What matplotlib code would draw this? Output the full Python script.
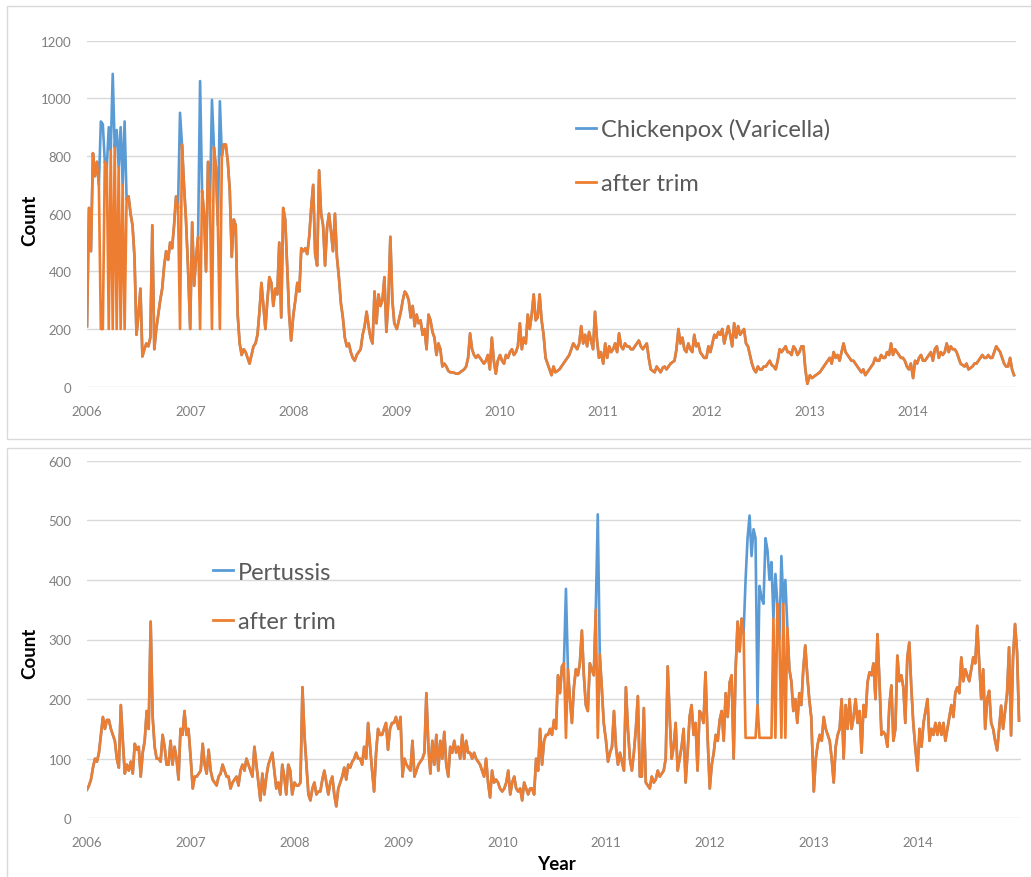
import matplotlib
matplotlib.use("Agg")
import matplotlib.pyplot as plt
import matplotlib.dates as mdates
from matplotlib.lines import Line2D
from matplotlib.patches import Rectangle
import pandas as pd

# === 每週數值（after trim），2006-2014，每年 52 週 === #
YEARS = list(range(2006, 2015))

cp_2006 = [210, 620, 470, 810, 730, 780, 700, 200, 200, 780, 760, 200, 820,
           200, 830, 200, 760, 200, 700, 200, 650, 660, 600, 560, 450, 180,
           250, 340, 105, 130, 150, 140, 170, 560, 130, 200, 250, 300, 340,
           420, 470, 440, 500, 480, 560, 660, 620, 200, 840, 700, 580, 420]
cp_2007 = [200, 570, 350, 450, 520, 200, 680, 600, 400, 780, 640, 200, 830,
           760, 560, 200, 800, 840, 840, 780, 680, 450, 580, 560, 250, 150,
           110, 130, 120, 100, 80, 110, 140, 150, 180, 260, 360, 280, 200,
           300, 380, 360, 280, 340, 320, 500, 240, 620, 580, 420, 250, 160]
cp_2008 = [250, 300, 360, 330, 480, 470, 480, 460, 520, 620, 700, 460, 420,
           750, 600, 560, 420, 550, 600, 540, 470, 600, 450, 380, 290, 240,
           170, 140, 150, 120, 100, 90, 110, 120, 130, 180, 210, 260, 210,
           170, 150, 330, 220, 320, 280, 300, 380, 190, 300, 520, 300, 220]
cp_2009 = [200, 230, 260, 300, 330, 320, 300, 240, 280, 210, 250, 220, 230,
           180, 200, 130, 250, 230, 190, 170, 110, 150, 130, 70, 80, 70,
           55, 50, 50, 48, 45, 45, 50, 55, 60, 70, 100, 185, 130, 110,
           100, 110, 100, 90, 80, 90, 110, 60, 170, 90, 45, 90]
cp_2010 = [110, 90, 80, 110, 100, 120, 130, 110, 120, 140, 220, 130, 170,
           150, 250, 200, 250, 320, 230, 240, 320, 230, 180, 100, 80, 60,
           40, 70, 50, 55, 60, 70, 80, 90, 100, 110, 130, 150, 140,
           130, 150, 210, 150, 180, 140, 190, 160, 130, 260, 160, 100, 120]
cp_2011 = [80, 150, 100, 140, 120, 130, 150, 120, 185, 140, 130, 150, 140,
           140, 130, 130, 140, 150, 160, 140, 130, 140, 150, 100, 60, 55,
           50, 70, 60, 50, 65, 70, 60, 70, 80, 85, 90, 130, 200,
           150, 170, 130, 120, 150, 130, 120, 180, 140, 150, 120, 110, 100]
cp_2012 = [100, 140, 120, 150, 180, 170, 190, 180, 200, 150, 180, 210, 180,
           140, 220, 170, 210, 180, 190, 200, 150, 140, 110, 80, 60, 50,
           70, 60, 60, 70, 70, 80, 90, 75, 70, 60, 90, 130, 120,
           130, 140, 120, 120, 110, 140, 130, 110, 120, 140, 140, 60, 10]
cp_2013 = [40, 30, 35, 40, 45, 50, 60, 70, 80, 90, 100, 80, 120,
           100, 110, 90, 120, 150, 120, 110, 100, 90, 90, 80, 70, 60,
           50, 60, 40, 50, 60, 70, 80, 100, 90, 90, 110, 100, 100,
           120, 110, 150, 110, 130, 120, 110, 100, 100, 90, 70, 60, 80]
cp_2014 = [30, 90, 80, 100, 110, 90, 90, 100, 110, 120, 90, 130, 140,
           100, 120, 110, 120, 150, 120, 140, 130, 130, 120, 100, 80, 75,
           70, 80, 60, 65, 70, 80, 80, 90, 100, 110, 100, 100, 110,
           100, 100, 120, 140, 130, 120, 100, 80, 70, 70, 100, 60, 40]

# 原始值（被 trim 掉的週）
cp_spike_year = [2006, 2006, 2006, 2006, 2006, 2006, 2006, 2006, 2007, 2007, 2007]
cp_spike_week = [7, 8, 11, 13, 15, 17, 19, 47, 5, 11, 15]
cp_spike_value = [920, 910, 900, 1085, 890, 900, 920, 950, 1060, 995, 990]

pt_2006 = [48, 55, 65, 85, 100, 95, 110, 140, 170, 150, 165, 165, 150,
           140, 130, 100, 85, 190, 130, 75, 90, 80, 95, 75, 125, 115,
           120, 70, 110, 130, 180, 150, 330, 170, 120, 100, 100, 95, 140,
           120, 90, 90, 130, 90, 120, 100, 65, 150, 140, 180, 140, 150]
pt_2007 = [100, 50, 70, 70, 75, 80, 125, 90, 75, 115, 80, 65, 60,
           55, 70, 75, 90, 80, 70, 70, 50, 60, 65, 70, 55, 80,
           90, 80, 100, 90, 80, 70, 120, 90, 60, 30, 75, 40, 70,
           90, 100, 110, 80, 50, 60, 40, 90, 70, 40, 90, 80, 40]
pt_2008 = [60, 55, 55, 60, 220, 140, 90, 40, 30, 50, 60, 40, 45,
           45, 65, 80, 60, 40, 60, 70, 40, 20, 50, 60, 70, 85,
           65, 90, 85, 95, 100, 110, 100, 100, 90, 120, 100, 160, 120,
           80, 45, 110, 150, 140, 140, 150, 160, 115, 150, 160, 160, 170]
pt_2009 = [150, 170, 70, 100, 90, 85, 80, 130, 70, 80, 90, 95, 100,
           110, 210, 120, 75, 130, 90, 140, 80, 130, 100, 145, 90, 70,
           120, 110, 130, 110, 120, 100, 140, 100, 130, 110, 110, 100, 110,
           100, 95, 90, 80, 70, 100, 60, 35, 80, 60, 65, 60, 50]
pt_2010 = [45, 50, 60, 80, 40, 60, 70, 50, 45, 50, 30, 60, 50,
           40, 50, 50, 40, 100, 80, 150, 90, 130, 140, 140, 150, 140,
           165, 150, 240, 210, 255, 260, 135, 250, 200, 160, 220, 250, 240,
           260, 315, 240, 190, 180, 260, 250, 240, 350, 135, 275, 220, 160]
pt_2011 = [130, 95, 110, 120, 180, 120, 90, 110, 95, 80, 220, 150, 100,
           80, 110, 150, 205, 70, 70, 185, 60, 55, 50, 70, 60, 65,
           80, 70, 75, 80, 100, 255, 170, 100, 120, 160, 80, 100, 120,
           150, 60, 110, 170, 190, 140, 160, 80, 180, 175, 160, 245, 140]
pt_2012 = [50, 90, 110, 140, 130, 165, 180, 130, 210, 170, 228, 240, 100,
           250, 330, 280, 335, 310, 135, 135, 135, 135, 135, 135, 190, 135,
           135, 135, 135, 135, 135, 135, 335, 135, 360, 300, 135, 360, 135,
           320, 250, 230, 180, 200, 160, 210, 190, 250, 290, 240, 200, 170]
pt_2013 = [45, 100, 125, 140, 130, 170, 150, 140, 130, 100, 60, 120, 140,
           150, 200, 100, 190, 150, 200, 150, 170, 200, 160, 180, 110, 190,
           170, 228, 245, 240, 260, 200, 309, 230, 140, 145, 140, 120, 190,
           223, 130, 150, 273, 230, 240, 220, 160, 270, 295, 220, 160, 120]
pt_2014 = [80, 150, 120, 160, 180, 200, 130, 150, 140, 160, 140, 160, 140,
           160, 130, 150, 170, 190, 170, 211, 220, 210, 270, 230, 250, 240,
           230, 250, 270, 260, 323, 260, 200, 250, 150, 200, 214, 160, 150,
           130, 114, 150, 189, 150, 180, 210, 287, 139, 270, 326, 280, 164]

pt_spike_year = [2010, 2010] + [2012] * 16
pt_spike_week = [32, 48, 18, 19, 20, 21, 22, 23, 25, 26, 27, 28, 29, 30, 31, 33, 36, 38]
pt_spike_value = [385, 510, 400, 470, 508, 440, 485, 470, 390, 370, 360, 470, 450,
                  400, 430, 410, 440, 400]

BLUE = "#5B9BD5"
ORANGE = "#ED7D31"
GRID = "#D9D9D9"

plt.rcParams["font.family"] = ["Lato", "DejaVu Sans"]


def week_date(year, week):
    return pd.Timestamp(year, 1, 1) + pd.Timedelta(weeks=week)


def build(year_lists):
    dates, vals = [], []
    for yr, vals_yr in zip(YEARS, year_lists):
        assert len(vals_yr) == 52, yr
        for w, v in enumerate(vals_yr):
            dates.append(week_date(yr, w))
            vals.append(v)
    return pd.Series(vals, index=pd.DatetimeIndex(dates), dtype=float)


def with_spikes(trimmed, years, weeks, values):
    orig = trimmed.copy()
    for yr, wk, v in zip(years, weeks, values):
        orig[week_date(yr, wk)] = v
    return orig


cp_trim = build([cp_2006, cp_2007, cp_2008, cp_2009, cp_2010,
                 cp_2011, cp_2012, cp_2013, cp_2014])
cp_orig = with_spikes(cp_trim, cp_spike_year, cp_spike_week, cp_spike_value)
pt_trim = build([pt_2006, pt_2007, pt_2008, pt_2009, pt_2010,
                 pt_2011, pt_2012, pt_2013, pt_2014])
pt_orig = with_spikes(pt_trim, pt_spike_year, pt_spike_week, pt_spike_value)

# === 畫圖 === #
W, H = 1031, 878
fig = plt.figure(figsize=(W / 100, H / 100), dpi=100)

# 兩個圖表外框
fig.add_artist(Rectangle((7 / W, (H - 440) / H), 1.2, 433 / H,
                         transform=fig.transFigure, fill=False,
                         edgecolor=GRID, lw=1))
fig.add_artist(Rectangle((7 / W, -0.2), 1.2, 0.2 + (H - 449) / H,
                         transform=fig.transFigure, fill=False,
                         edgecolor=GRID, lw=1))

ax1 = fig.add_axes([87 / W, (H - 387.7) / H, 929 / W, 346 / H])
ax2 = fig.add_axes([87 / W, (H - 819.3) / H, 934 / W, 357.6 / H])

panels = [
    (ax1, cp_orig, cp_trim, 1200, 200, "Chickenpox (Varicella)", (0.5264, 0.777), 1.42),
    (ax2, pt_orig, pt_trim, 600, 100, "Pertussis", (0.1349, 0.718), 1.21),
]

for ax, orig, trim, ymax, step, name, leg_pos, spacing in panels:
    ax.plot(orig.index, orig.values, color=BLUE, lw=1.9)
    ax.plot(trim.index, trim.values, color=ORANGE, lw=1.9)
    ax.set_ylim(0, ymax)
    ax.set_yticks(range(0, ymax + 1, step))
    ax.set_xlim(pd.Timestamp(2006, 1, 1), pd.Timestamp(2014, 12, 31))
    ax.xaxis.set_major_locator(mdates.YearLocator())
    ax.xaxis.set_major_formatter(mdates.DateFormatter("%Y"))
    ax.grid(axis="y", color=GRID, lw=1)
    ax.set_axisbelow(True)
    for s in ax.spines.values():
        s.set_visible(False)
    ax.tick_params(length=0, labelsize=9.5, labelcolor="#7F7F7F")
    ax.tick_params(axis="y", pad=11)
    ax.tick_params(axis="x", pad=13)
    ax.set_facecolor("none")

    handles = [Line2D([], [], color=BLUE, lw=2), Line2D([], [], color=ORANGE, lw=2)]
    ax.legend(handles, [name, "after trim"], loc="upper left",
              bbox_to_anchor=leg_pos, frameon=False, fontsize=17,
              handlelength=0.85, handletextpad=0.2, labelspacing=spacing,
              borderpad=0, borderaxespad=0, labelcolor="#595959")

fig.text(30 / W, (H - 220) / H, "Count", rotation=90, ha="center", va="center",
         fontsize=13.5, fontweight="bold")
fig.text(30 / W, (H - 653) / H, "Count", rotation=90, ha="center", va="center",
         fontsize=13.5, fontweight="bold")
fig.text(556.7 / W, (H - 865) / H, "Year", ha="center", va="center",
         fontsize=13.5, fontweight="bold")

fig.savefig("out.png", dpi=100)
